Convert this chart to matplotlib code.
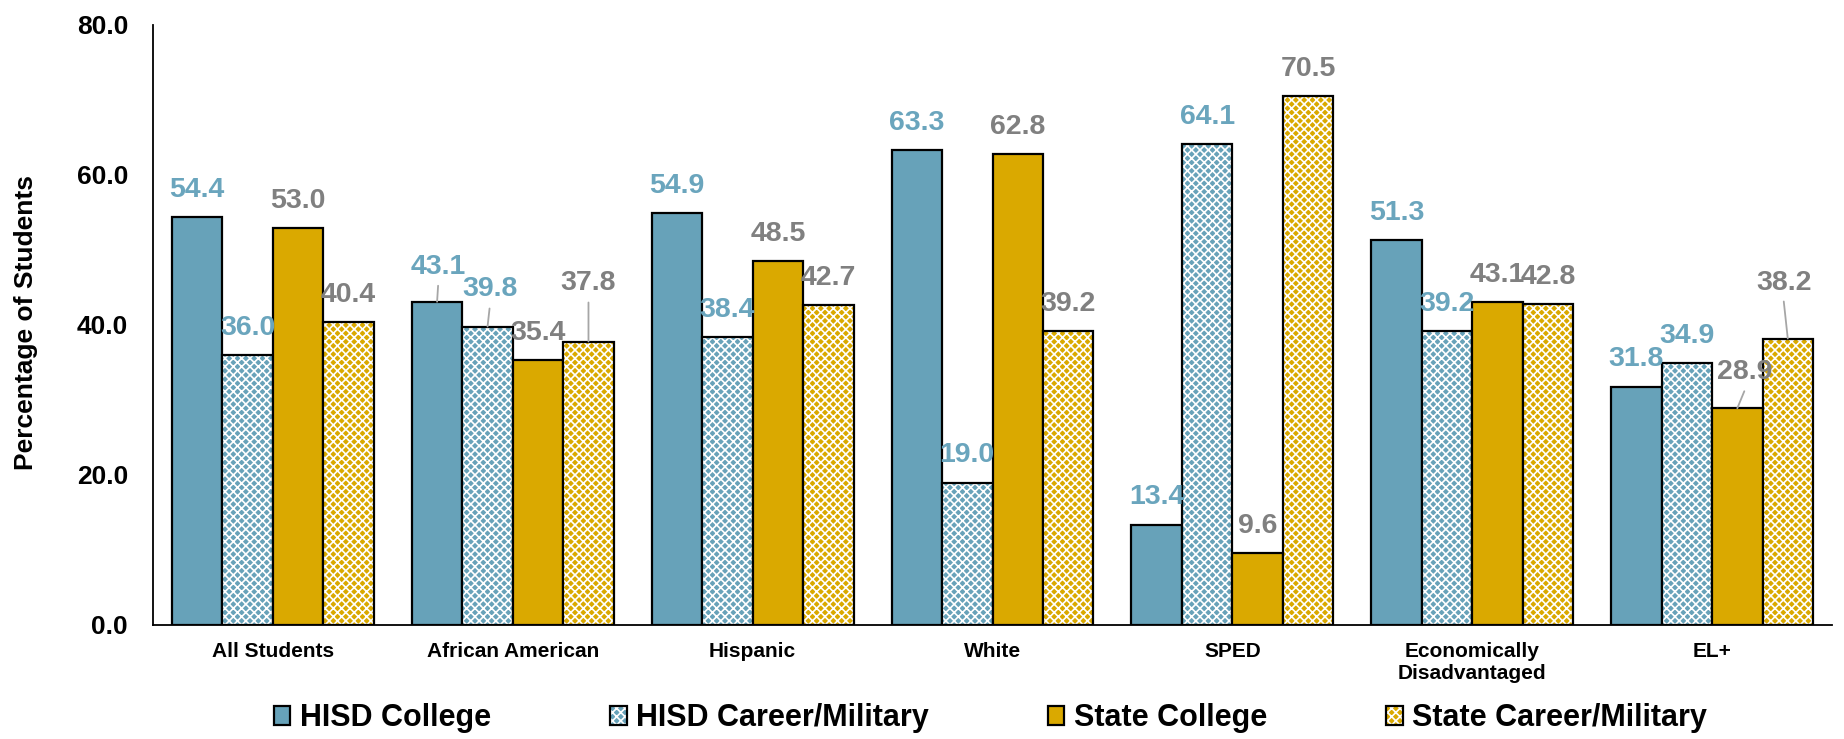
import numpy as np
import matplotlib
matplotlib.use('Agg')
import matplotlib.pyplot as plt
from matplotlib.patches import Patch

plt.rcParams['font.family'] = ['Liberation Sans', 'DejaVu Sans']
plt.rcParams['font.weight'] = 'bold'
plt.rcParams['hatch.linewidth'] = 1.2

# data
categories = ['All Students', 'African American', 'Hispanic', 'White', 'SPED',
              'Economically\nDisadvantaged', 'EL+']
series_names = ['HISD College', 'HISD Career/Military', 'State College', 'State Career/Military']
hisd_college = [54.4, 43.1, 54.9, 63.3, 13.4, 51.3, 31.8]
hisd_career = [36.0, 39.8, 38.4, 19.0, 64.1, 39.2, 34.9]
state_college = [53.0, 35.4, 48.5, 62.8, 9.6, 43.1, 28.9]
state_career = [40.4, 37.8, 42.7, 39.2, 70.5, 42.8, 38.2]
y_ticks = [0, 20, 40, 60, 80]

# styling
blue = '#67A2B9'
gold = '#DAA900'
label_blue = '#6AA5BD'
label_gray = '#808080'
fills = [blue, blue, gold, gold]
hatches = [None, 'xxxx', None, 'xxxx']
label_colors = [label_blue, label_blue, label_gray, label_gray]

# labels that Excel moved up, with a leader line (group, series) -> (dx, dy) px
moved = {(1, 0): (1, 35), (1, 1): (2, 37), (1, 3): (0, 58),
         (6, 2): (7, 36), (6, 3): (-4, 56)}

fig = plt.figure(figsize=(18.44, 7.39), dpi=100)
ax = fig.add_axes([153 / 1844, 114 / 739, 1679 / 1844, 600 / 739])

x = np.arange(len(categories))
width = 0.2104
all_series = [hisd_college, hisd_career, state_college, state_career]

for s, vals in enumerate(all_series):
    pos = x + (s - 1.5) * width
    if hatches[s]:
        ax.bar(pos, vals, width, color=fills[s], edgecolor='white', hatch=hatches[s], linewidth=0)
        ax.bar(pos, vals, width, fill=False, edgecolor='black', linewidth=1.6)
    else:
        ax.bar(pos, vals, width, color=fills[s], edgecolor='black', linewidth=1.6)
    for g, v in enumerate(vals):
        dx, dy = moved.get((g, s), (0, 27))
        ax.annotate(f'{v:.1f}', xy=(pos[g], v), xytext=(dx, dy), textcoords='offset pixels',
                    ha='center', va='center', fontsize=20.5, fontweight='bold',
                    color=label_colors[s])
        if (g, s) in moved:
            ax.annotate('', xy=(pos[g], v), xytext=(dx, dy - 19), textcoords='offset pixels',
                        arrowprops=dict(arrowstyle='-', color='#A6A6A6', lw=1.3,
                                        shrinkA=0, shrinkB=0))

ax.set_xlim(-0.5, len(categories) - 0.5)
ax.set_ylim(0, 80)
ax.set_yticks(y_ticks)
ax.set_yticklabels([f'{t:.1f}' for t in y_ticks], fontsize=19, fontweight='bold')
ax.set_xticks(x)
ax.set_xticklabels(categories, fontsize=15, fontweight='bold')
ax.tick_params(axis='y', length=0, pad=18)
ax.tick_params(axis='x', length=0, pad=12)
for side in ['top', 'right']:
    ax.spines[side].set_visible(False)
for side in ['left', 'bottom']:
    ax.spines[side].set_linewidth(1.3)

fig.text(26 / 1844, 416 / 739, 'Percentage of Students', rotation=90,
         ha='center', va='center', fontsize=19, fontweight='bold')

handles = []
for s in range(4):
    if hatches[s]:
        handles.append((Patch(facecolor=fills[s], edgecolor='white', hatch=hatches[s], linewidth=0),
                        Patch(fill=False, edgecolor='black', linewidth=1.6)))
    else:
        handles.append(Patch(facecolor=fills[s], edgecolor='black', linewidth=1.6))

fig.legend(handles, series_names, loc='center', bbox_to_anchor=(0.537, 0.028),
           ncol=4, frameon=False, handlelength=0.55, handleheight=0.55,
           handletextpad=0.3, columnspacing=3.9, borderpad=0,
           prop={'weight': 'bold', 'size': 22})

fig.savefig('out.png', dpi=100)
